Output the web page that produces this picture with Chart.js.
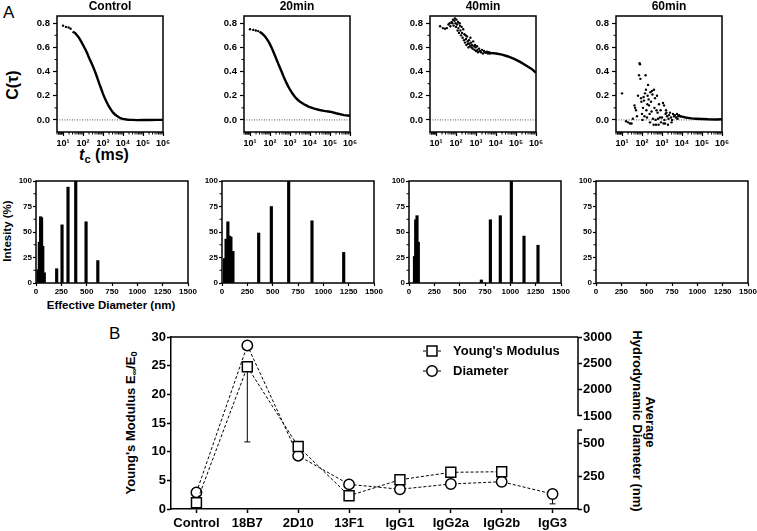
<!DOCTYPE html>
<html>
<head>
<meta charset="utf-8">
<title>DLS correlation, size distribution and Young's modulus</title>
<script src="https://cdn.jsdelivr.net/npm/chart.js@4.4.1/dist/chart.umd.min.js"></script>
<style>
  html, body { margin: 0; padding: 0; background: #fff; }
  body { position: relative; width: 757px; height: 531px; overflow: hidden;
         font-family: "Liberation Sans", Arial, sans-serif; color: #000; }
  .pane { position: absolute; }
  .txt { position: absolute; font-weight: bold; white-space: nowrap; line-height: 1; }
  .rot { transform: translate(-50%, -50%) rotate(-90deg); }
  .rotr { transform: translate(-50%, -50%) rotate(90deg); }
  .ctr { transform: translate(-50%, -50%); }
  sub { font-size: 70%; vertical-align: -0.3em; line-height: 0; }
</style>
</head>
<body>

<div class="txt" style="left:3px;top:4px;font-weight:normal;font-size:17px">A</div>
<div class="txt" style="left:109px;top:325px;font-weight:normal;font-size:17px">B</div>
<div class="txt rot" style="left:13px;top:85px;font-size:16px">C(τ)</div>
<div class="txt ctr" style="left:104px;top:155px;font-size:16px"><i>t</i><sub>c</sub> (ms)</div>
<div class="txt rot" style="left:8px;top:231px;font-size:11.5px">Intesity (%)</div>
<div class="txt ctr" style="left:111px;top:306px;font-size:11.5px">Effective Diameter (nm)</div>
<div class="txt rot" style="left:130px;top:423px;font-size:13px">Young's Modulus E<sub>∞</sub>/E<sub>0</sub></div>
<div class="txt rotr" style="left:650px;top:422px;font-size:13px">Average</div>
<div class="txt rotr" style="left:637px;top:421px;font-size:13px">Hydrodynamic Diameter (nm)</div>

<script>
// ---------------- data ----------------

const panelTitles = ['Control', '20min', '40min', '60min'];

// correlation functions, [tc (ms), C(tau)]
const decadeTicks = [10, 100, 1000, 10000, 100000, 1000000];
const decadeLabels = ['10¹', '10²', '10³', '10⁴', '10⁵', '10⁶'];
const corrTicks = [0, 0.2, 0.4, 0.6, 0.8];

const ctrlDots = [[10,0.78],[14,0.77],[19,0.765],[24,0.755]];
const ctrlCurve = [[30,0.73],[40,0.72],[50,0.70],[60,0.685],[80,0.65],[100,0.62],[130,0.585],
  [160,0.553],[200,0.515],[250,0.48],[300,0.45],[400,0.40],[500,0.355],[650,0.30],[800,0.26],
  [1000,0.215],[1300,0.17],[1600,0.14],[2000,0.11],[2500,0.085],[3200,0.06],[4000,0.045],
  [5000,0.032],[6500,0.02],[8000,0.013],[10000,0.008],[15000,0.003],[20000,0.001],[30000,0],
  [50000,-0.002],[100000,0],[200000,-0.001],[500000,0],[1000000,0]];

const min20Dots = [[10,0.75],[14.6,0.745],[19.5,0.74],[25.6,0.735]];
const min20Curve = [[30,0.73],[40,0.715],[50,0.70],[60,0.685],[80,0.655],[100,0.625],[130,0.585],
  [160,0.55],[200,0.51],[250,0.47],[300,0.44],[400,0.39],[500,0.35],[650,0.31],[800,0.28],
  [1000,0.25],[1300,0.22],[1600,0.20],[2000,0.18],[2500,0.165],[3200,0.15],[4000,0.14],
  [5000,0.13],[6500,0.12],[8000,0.112],[10000,0.105],[15000,0.095],[20000,0.09],[30000,0.082],
  [50000,0.075],[100000,0.068],[200000,0.055],[500000,0.04],[1000000,0.035]];

const min40Dots = [[16,0.775],[22,0.76],[28,0.755],[35,0.76],[42,0.79],[48,0.80],[52,0.775],
  [60,0.81],[66,0.80],[71,0.83],[76,0.78],[83,0.82],[89,0.84],[95,0.80],[100,0.77],[105,0.83],
  [112,0.79],[120,0.74],[126,0.81],[132,0.76],[141,0.72],[151,0.80],[158,0.78],[166,0.74],
  [178,0.70],[191,0.77],[200,0.72],[214,0.68],[229,0.75],[251,0.66],[263,0.71],[282,0.64],
  [302,0.70],[316,0.67],[331,0.62],[355,0.69],[380,0.65],[398,0.63],[417,0.60],[447,0.66],
  [479,0.63],[501,0.61],[525,0.68],[562,0.64],[603,0.60],[631,0.62],[676,0.59],[724,0.65],
  [794,0.61],[832,0.58],[891,0.62],[955,0.60],[1000,0.57],[1122,0.61],[1202,0.58],[1259,0.56],
  [1413,0.59],[1585,0.57],[1778,0.56],[1995,0.58],[2239,0.55],[2512,0.57],[2818,0.56],
  [3162,0.555],[3548,0.565],[3981,0.55],[4467,0.56],[5012,0.55]];
const min40Curve = [[5000,0.555],[10000,0.55],[20000,0.54],[40000,0.525],[80000,0.505],
  [160000,0.48],[320000,0.45],[630000,0.42],[1000000,0.39]];

const min60Dots = [[10,0.22],[16,-0.01],[20,-0.02],[25,-0.03],[30,-0.03],[35,0.01],[42,0.12],
  [45,0.10],[50,0.08],[56,0.03],[63,0.20],[71,0.37],[76,0.47],[79,0.46],[83,0.34],[89,0.18],
  [93,0.15],[100,0.05],[105,0.0],[112,0.10],[120,0.19],[126,0.16],[132,0.03],[141,0.22],
  [151,0.37],[158,0.25],[166,0.08],[178,0.02],[185,0.13],[191,0.20],[200,0.29],[214,0.17],
  [224,0.12],[240,0.05],[251,-0.02],[263,0.23],[282,0.15],[300,0.07],[316,0.24],[331,0.21],
  [355,0.01],[380,-0.04],[398,0.25],[417,0.10],[447,0.18],[479,0.0],[501,-0.04],[530,0.08],
  [562,0.20],[603,0.06],[631,0.01],[670,-0.04],[708,0.13],[794,0.02],[850,0.08],[891,-0.02],
  [1000,0.02],[1122,0.14],[1200,-0.03],[1259,0.12],[1318,0.0],[1413,-0.03],[1500,0.05],
  [1585,0.08],[1660,0.06],[1778,0.03],[1995,-0.04],[2100,0.01],[2239,0.04],[2512,0.06],
  [2818,0.02],[3000,-0.02],[3162,0.0],[3548,0.05],[3981,0.03],[4467,0.04],[5012,0.02],
  [5623,0.05],[6000,0.01],[6310,0.03],[7079,0.04],[7943,0.03]];
const min60Curve = [[7943,0.03],[10000,0.027],[15000,0.02],[20000,0.017],[30000,0.013],
  [50000,0.01],[100000,0.007],[200000,0.005],[500000,0.004],[1000000,0.005]];

// size distributions, [effective diameter (nm), intensity (%)]
const sizeTicks = [0, 250, 500, 750, 1000, 1250, 1500];
const intensityTicks = [0, 25, 50, 75, 100];
const ctrlBars = [[20,13],[33,40],[45,65],[55,64],[67,36],[82,10],[204,14],[257,57],[316,94],
  [392,100],[494,60],[610,22]];
const min20Bars = [[25,24],[40,43],[58,60],[75,46],[88,45],[108,31],[362,49],[487,75],[658,100],
  [888,61],[1201,30]];
const min40Bars = [[54,26],[66,62],[79,66],[92,40],[714,3],[803,62],[901,66],[1010,100],
  [1135,46],[1273,37]];
const min60Bars = [];

// panel B
const categories = ['Control', '18B7', '2D10', '13F1', 'IgG1', 'IgG2a', 'IgG2b', 'IgG3'];
const seriesNames = ["Young's Modulus", 'Diameter'];
const youngs = [1.1, 24.8, 10.9, 2.3, 5.1, 6.4, 6.5, null];
const youngsErr = [0, 13.1, 0, 0, 0, 0, 0, 0];
const diameter = [126, 2840, 405, 187, 150, 190, 207, 114];
const diameterErr = [0, 0, 0, 0, 0, 0, 0, 75];
const youngTicks = [0, 5, 10, 15, 20, 25, 30];
const diameterTicks = [0, 250, 500, 1500, 2000, 2500, 3000];

// ---------------- setup ----------------

Chart.defaults.font.family = "'Liberation Sans', Arial, sans-serif";
Chart.defaults.color = '#000';
Chart.defaults.animation = false;
Chart.defaults.responsive = true;
Chart.defaults.maintainAspectRatio = false;
Chart.defaults.events = [];
Chart.defaults.plugins.legend.display = false;
Chart.defaults.plugins.tooltip.enabled = false;

const BREAK = { lowMax: 600, lowFrac: 0.4593, highMin: 1500, highFrac: 0.5407, max: 3000 };

// linear axis with a gap between lowMax and highMin
class BrokenScale extends Chart.LinearScale {
  buildTicks() {
    return diameterTicks.map(v => ({ value: v }));
  }
  getPixelForValue(v) {
    let f;
    if (v <= BREAK.lowMax) f = v / BREAK.lowMax * BREAK.lowFrac;
    else f = BREAK.highFrac + (v - BREAK.highMin) / (BREAK.max - BREAK.highMin) * (1 - BREAK.highFrac);
    return this.bottom - f * (this.bottom - this.top);
  }
  getValueForPixel(p) {
    const f = (this.bottom - p) / (this.bottom - this.top);
    if (f <= BREAK.lowFrac) return f / BREAK.lowFrac * BREAK.lowMax;
    return BREAK.highMin + (f - BREAK.highFrac) / (1 - BREAK.highFrac) * (BREAK.max - BREAK.highMin);
  }
}
BrokenScale.id = 'broken';
Chart.register(BrokenScale);

function bold(size) {
  return { size: size, weight: 'bold' };
}

function place(l, t, r, b, m) {
  const div = document.createElement('div');
  div.className = 'pane';
  div.style.left = (l - m.l) + 'px';
  div.style.top = (t - m.t) + 'px';
  div.style.width = (r - l + m.l + m.r) + 'px';
  div.style.height = (b - t + m.t + m.b) + 'px';
  const cv = document.createElement('canvas');
  div.appendChild(cv);
  document.body.appendChild(div);
  return cv;
}

const pts = arr => arr.map(p => ({ x: p[0], y: p[1] }));

// ---------------- plugins ----------------

const frame = {
  id: 'frame',
  afterDraw(chart) {
    const { ctx, chartArea: a } = chart;
    ctx.save();
    ctx.strokeStyle = '#000';
    ctx.lineWidth = 1.5;
    ctx.strokeRect(a.left, a.top, a.right - a.left, a.bottom - a.top);
    ctx.restore();
  }
};

function minorTicks(xVals, yVals) {
  return {
    id: 'minorTicks',
    afterDraw(chart) {
      const { ctx, chartArea: a, scales } = chart;
      ctx.save();
      ctx.strokeStyle = '#000';
      ctx.lineWidth = 1;
      ctx.beginPath();
      xVals.forEach(v => {
        const p = scales.x.getPixelForValue(v);
        if (p < a.left || p > a.right) return;
        ctx.moveTo(p, a.bottom);
        ctx.lineTo(p, a.bottom + 2.5);
      });
      yVals.forEach(v => {
        const p = scales.y.getPixelForValue(v);
        ctx.moveTo(a.left, p);
        ctx.lineTo(a.left - 2.5, p);
      });
      ctx.stroke();
      ctx.restore();
    }
  };
}

const zeroLine = {
  id: 'zeroLine',
  beforeDatasetsDraw(chart) {
    const { ctx, chartArea: a } = chart;
    const y = chart.scales.y.getPixelForValue(0);
    ctx.save();
    ctx.strokeStyle = '#555';
    ctx.lineWidth = 1;
    ctx.setLineDash([1, 1.5]);
    ctx.beginPath();
    ctx.moveTo(a.left, y);
    ctx.lineTo(a.right, y);
    ctx.stroke();
    ctx.restore();
  }
};

// ---------------- panel A, correlation ----------------

const logMinor = [];
for (let d = 1; d <= 100000; d *= 10) {
  for (let k = 2; k <= 9; k++) logMinor.push(k * d);
}
logMinor.push(6, 7, 8, 9);

const corrLefts = [57, 244, 430, 616];
const corrSets = [
  [ctrlDots, ctrlCurve],
  [min20Dots, min20Curve],
  [min40Dots, min40Curve],
  [min60Dots, min60Curve]
];

corrSets.forEach((set, i) => {
  const L = corrLefts[i];
  const cv = place(L, 16, L + 106, 132, { l: 42, t: 16, r: 14, b: 20 });
  new Chart(cv, {
    type: 'scatter',
    data: {
      datasets: [
        {
          data: pts(set[0]),
          pointRadius: 1.2,
          pointBorderWidth: 0,
          backgroundColor: '#000',
          borderColor: '#000'
        },
        {
          data: pts(set[1]),
          showLine: true,
          borderWidth: 2.4,
          borderColor: '#000',
          pointRadius: 0,
          tension: 0
        }
      ]
    },
    options: {
      layout: { padding: { left: 0, top: 0, right: 14, bottom: 0 } },
      plugins: {
        title: {
          display: true,
          text: panelTitles[i],
          fullSize: false,
          color: '#000',
          font: { size: 12, weight: 'bold', lineHeight: 1 },
          padding: { top: 1, bottom: 3 }
        }
      },
      scales: {
        x: {
          type: 'logarithmic',
          min: 5,
          max: 1000000,
          afterBuildTicks: s => { s.ticks = decadeTicks.map(v => ({ value: v })); },
          afterFit: s => { s.height = 20; },
          ticks: {
            callback: v => decadeLabels[decadeTicks.indexOf(v)] || '',
            font: bold(9),
            padding: 2,
            maxRotation: 0,
            autoSkip: false
          },
          grid: { drawOnChartArea: false, tickLength: 4, tickColor: '#000', tickWidth: 1.2 },
          border: { display: false }
        },
        y: {
          min: -0.1,
          max: 0.86,
          afterBuildTicks: s => { s.ticks = corrTicks.map(v => ({ value: v })); },
          afterFit: s => { s.width = 42; },
          ticks: { callback: v => v.toFixed(1), font: bold(9.5), padding: 3 },
          grid: { drawOnChartArea: false, tickLength: 4, tickColor: '#000', tickWidth: 1.2 },
          border: { display: false }
        }
      }
    },
    plugins: [zeroLine, frame, minorTicks(logMinor, [0.1, 0.3, 0.5, 0.7])]
  });
});

// ---------------- panel A, size distribution ----------------

const barLefts = [36, 222, 409, 596];
const barSets = [ctrlBars, min20Bars, min40Bars, min60Bars];

barSets.forEach((bars, i) => {
  const L = barLefts[i];
  const cv = place(L, 181, L + 152, 283, { l: 28, t: 8, r: 12, b: 16 });
  new Chart(cv, {
    type: 'bar',
    data: {
      datasets: [{
        data: pts(bars),
        backgroundColor: '#000',
        borderWidth: 0,
        barThickness: 2.5
      }]
    },
    options: {
      layout: { padding: { left: 0, top: 8, right: 12, bottom: 0 } },
      scales: {
        x: {
          type: 'linear',
          min: 0,
          max: 1500,
          offset: false,
          afterBuildTicks: s => { s.ticks = sizeTicks.map(v => ({ value: v })); },
          afterFit: s => { s.height = 16; },
          ticks: { callback: v => String(v), font: bold(8), padding: 1, maxRotation: 0, autoSkip: false },
          grid: { offset: false, drawOnChartArea: false, tickLength: 3, tickColor: '#000', tickWidth: 1.2 },
          border: { display: false }
        },
        y: {
          min: 0,
          max: 100,
          afterBuildTicks: s => { s.ticks = intensityTicks.map(v => ({ value: v })); },
          afterFit: s => { s.width = 28; },
          ticks: { callback: v => String(v), font: bold(8), padding: 1 },
          grid: { drawOnChartArea: false, tickLength: 3, tickColor: '#000', tickWidth: 1.2 },
          border: { display: false }
        }
      }
    },
    plugins: [frame, minorTicks([], [12.5, 37.5, 62.5, 87.5])]
  });
});

// ---------------- panel B ----------------

const errorBars = {
  id: 'errorBars',
  beforeDatasetsDraw(chart) {
    const { ctx } = chart;
    const xs = chart.scales.x;
    ctx.save();
    ctx.strokeStyle = '#000';
    ctx.lineWidth = 1;
    [[youngs, youngsErr, 'y'], [diameter, diameterErr, 'y2']].forEach(([vals, errs, id]) => {
      const s = chart.scales[id];
      vals.forEach((v, i) => {
        if (v == null || !errs[i]) return;
        const px = xs.getPixelForValue(i);
        const p0 = s.getPixelForValue(v);
        const p1 = s.getPixelForValue(v - errs[i]);
        ctx.beginPath();
        ctx.moveTo(px, p0);
        ctx.lineTo(px, p1);
        ctx.moveTo(px - 3, p1);
        ctx.lineTo(px + 3, p1);
        ctx.stroke();
      });
    });
    ctx.restore();
  }
};

const brokenFrame = {
  id: 'brokenFrame',
  afterDraw(chart) {
    const { ctx, chartArea: a } = chart;
    const s = chart.scales.y2;
    const lowTop = s.getPixelForValue(BREAK.lowMax);
    const highBottom = s.getPixelForValue(BREAK.highMin);
    ctx.save();
    ctx.strokeStyle = '#000';
    ctx.lineWidth = 1.5;
    ctx.beginPath();
    ctx.moveTo(a.left, a.top);
    ctx.lineTo(a.right, a.top);
    ctx.moveTo(a.right, a.bottom);
    ctx.lineTo(a.right, lowTop);
    ctx.lineTo(a.right + 4, lowTop);
    ctx.moveTo(a.right, highBottom);
    ctx.lineTo(a.right, a.top);
    ctx.stroke();
    ctx.restore();
  }
};

const legendBox = {
  id: 'legendBox',
  afterDraw(chart) {
    const { ctx, chartArea: a } = chart;
    const mx = a.left + 261;
    const rows = [
      [a.top + 14, 'rect', 7],
      [a.top + 34, 'circle', 5.2]
    ];
    ctx.save();
    rows.forEach((r, i) => {
      ctx.strokeStyle = '#000';
      ctx.lineWidth = 1;
      ctx.setLineDash([3, 2]);
      ctx.beginPath();
      ctx.moveTo(mx - 9, r[0]);
      ctx.lineTo(mx + 9, r[0]);
      ctx.stroke();
      ctx.setLineDash([]);
      ctx.fillStyle = '#fff';
      ctx.lineWidth = 1.5;
      Chart.helpers.drawPoint(ctx, { pointStyle: r[1], radius: r[2], borderWidth: 1.5, rotation: 0 }, mx, r[0]);
      ctx.fillStyle = '#000';
      ctx.font = "bold 13px 'Liberation Sans', Arial, sans-serif";
      ctx.textBaseline = 'middle';
      ctx.fillText(seriesNames[i], mx + 21, r[0]);
    });
    ctx.restore();
  }
};

const bCanvas = place(171, 337, 578, 509, { l: 30, t: 10, r: 40, b: 22 });
new Chart(bCanvas, {
  type: 'line',
  data: {
    labels: categories,
    datasets: [
      {
        label: seriesNames[0],
        data: youngs,
        yAxisID: 'y',
        borderColor: '#000',
        borderWidth: 1,
        borderDash: [3, 2],
        pointStyle: 'rect',
        pointRadius: 7,
        pointBorderWidth: 1.5,
        pointBackgroundColor: '#fff',
        pointBorderColor: '#000',
        spanGaps: false,
        order: 0
      },
      {
        label: seriesNames[1],
        data: diameter,
        yAxisID: 'y2',
        borderColor: '#000',
        borderWidth: 1,
        borderDash: [3, 2],
        pointStyle: 'circle',
        pointRadius: 5.2,
        pointBorderWidth: 1.5,
        pointBackgroundColor: '#fff',
        pointBorderColor: '#000',
        order: 1
      }
    ]
  },
  options: {
    layout: { padding: { left: 0, top: 10, right: 0, bottom: 0 } },
    scales: {
      x: {
        type: 'category',
        offset: true,
        afterFit: s => { s.height = 22; },
        ticks: { font: bold(13), padding: 3, maxRotation: 0, autoSkip: false },
        grid: { offset: false, drawOnChartArea: false, tickLength: 4, tickColor: '#000', tickWidth: 1.5 },
        border: { color: '#000', width: 1.5 }
      },
      y: {
        position: 'left',
        min: 0,
        max: 30,
        afterBuildTicks: s => { s.ticks = youngTicks.map(v => ({ value: v })); },
        afterFit: s => { s.width = 30; },
        ticks: { font: bold(13), padding: 1 },
        grid: { drawOnChartArea: false, tickLength: 4, tickColor: '#000', tickWidth: 1.5 },
        border: { color: '#000', width: 1.5 }
      },
      y2: {
        type: 'broken',
        position: 'right',
        min: 0,
        max: 3000,
        afterFit: s => { s.width = 40; },
        ticks: { font: bold(13), padding: 1, callback: v => String(v) },
        grid: { drawOnChartArea: false, tickLength: 4, tickColor: '#000', tickWidth: 1.5 },
        border: { display: false }
      }
    }
  },
  plugins: [errorBars, brokenFrame, legendBox]
});
</script>
</body>
</html>
